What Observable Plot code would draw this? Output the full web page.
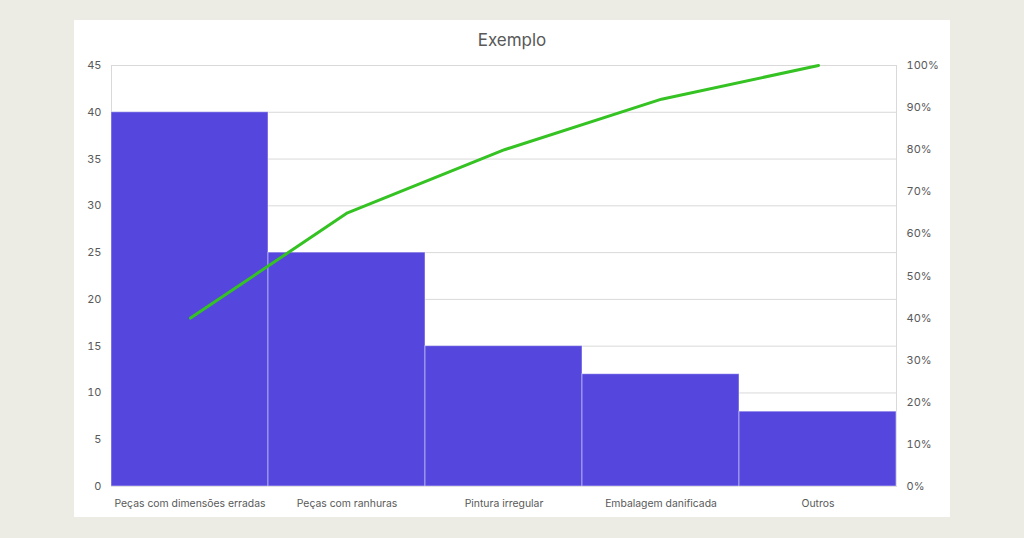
<!DOCTYPE html>
<html>
<head>
<meta charset="utf-8">
<script src="https://cdn.jsdelivr.net/npm/d3@7"></script>
<script src="https://cdn.jsdelivr.net/npm/@observablehq/plot@0.6"></script>
<style>
  html, body { margin: 0; padding: 0; background: #ecece4; width: 1024px; height: 538px; overflow: hidden; }
  #panel { position: absolute; left: 74px; top: 20px; width: 876px; height: 497px; background: #ffffff; }
  #title { height: 40px; line-height: 40px; text-align: center; font-family: Inter, "Open Sans", sans-serif; font-size: 17px; color: #595959; }
  #chart { position: relative; width: 876px; height: 457px; }
  #chart svg { position: absolute; left: 0; top: 0; }
</style>
</head>
<body>
<div id="panel">
  <div id="title">Exemplo</div>
  <div id="chart"></div>
</div>
<script>
const categories = ["Peças com dimensões erradas", "Peças com ranhuras", "Pintura irregular", "Embalagem danificada", "Outros"];
const counts = [40, 25, 15, 12, 8];
const cumulativePct = [0.40, 0.65, 0.80, 0.92, 1.00];
const leftTicks = [0, 5, 10, 15, 20, 25, 30, 35, 40, 45];
const rightTicks = [0, 0.1, 0.2, 0.3, 0.4, 0.5, 0.6, 0.7, 0.8, 0.9, 1.0];

const bars = categories.map((c, i) => ({category: c, count: counts[i]}));
const cum = categories.map((c, i) => ({category: c, pct: cumulativePct[i]}));

const W = 876, H = 457;
const margins = {marginTop: 5, marginBottom: 31, marginLeft: 37, marginRight: 54};
const font = "Inter, 'Open Sans', sans-serif";

const p1 = Plot.plot({
  width: W, height: H, ...margins,
  style: {fontFamily: font, fontSize: "11px", color: "#595959", background: "transparent", overflow: "visible"},
  x: {domain: categories, padding: 0, label: null, tickSize: 0, tickPadding: 13},
  y: {domain: [0, 45], ticks: leftTicks, label: null, tickSize: 0, tickPadding: 10},
  marks: [
    Plot.gridY(leftTicks, {stroke: "#d9d9d9", strokeOpacity: 1}),
    Plot.frame({stroke: "#d9d9d9"}),
    Plot.barY(bars, {x: "category", y: "count", fill: "#5547de", stroke: "#ffffff", strokeOpacity: 0.45, strokeWidth: 1, inset: 0}),
    Plot.axisX({tickSize: 0, tickPadding: 13, fill: "#595959", fontSize: 10.4}),
    Plot.axisY(leftTicks, {tickSize: 0, tickPadding: 10, fill: "#595959"})
  ]
});

const p2 = Plot.plot({
  width: W, height: H, ...margins,
  style: {fontFamily: font, fontSize: "11px", color: "#595959", background: "transparent", overflow: "visible"},
  x: {type: "point", domain: categories, padding: 0.5, axis: null},
  y: {domain: [0, 1], label: null},
  marks: [
    Plot.line(cum, {x: "category", y: "pct", stroke: "#35c223", strokeWidth: 3}),
    Plot.axisY(rightTicks, {anchor: "right", tickSize: 0, tickPadding: 10, tickFormat: d => Math.round(d * 100) + "%", fill: "#595959", label: null})
  ]
});

const chart = document.getElementById("chart");
chart.appendChild(p1);
chart.appendChild(p2);
</script>
</body>
</html>
